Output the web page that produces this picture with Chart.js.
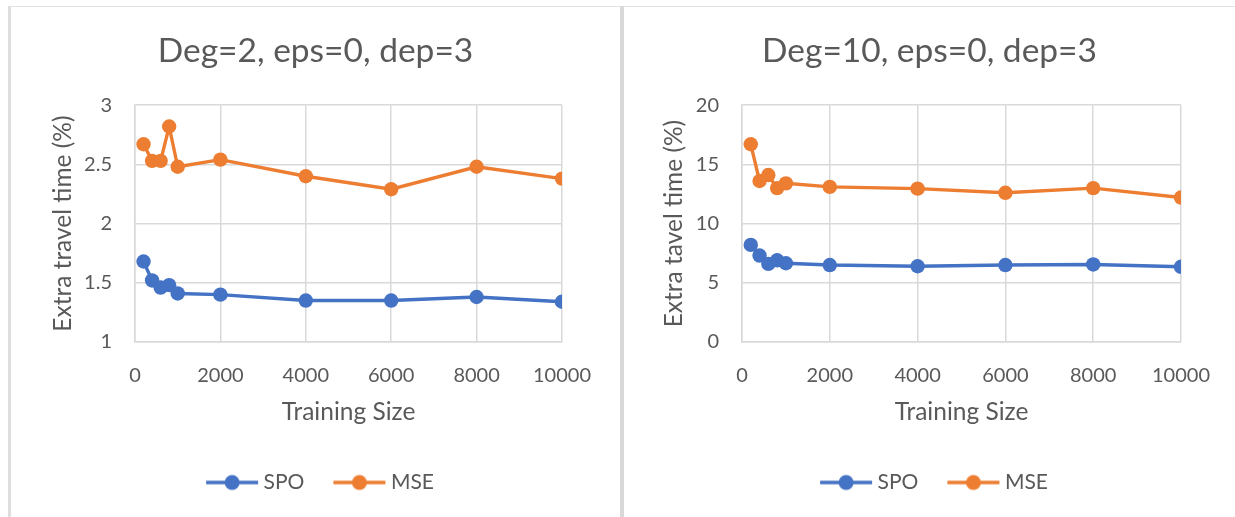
<!DOCTYPE html>
<html>
<head>
<meta charset="utf-8">
<script src="https://cdn.jsdelivr.net/npm/chart.js@4.4.1/dist/chart.umd.min.js"></script>
<style>
  html, body { margin: 0; padding: 0; background: #fff; }
  body { width: 1235px; height: 517px; position: relative; overflow: hidden; }
  .rule { position: absolute; background: #d9d9d9; }
  canvas { position: absolute; }
</style>
</head>
<body>
<div class="rule" style="left:8px;top:6px;width:1227px;height:1px;background:#e3e3e3"></div>
<div class="rule" style="left:8px;top:6px;width:3px;height:511px;background:#dedede"></div>
<div class="rule" style="left:620px;top:6px;width:4px;height:511px"></div>
<canvas id="deg2" width="609" height="509" style="left:11px;top:8px"></canvas>
<canvas id="deg10" width="611" height="509" style="left:624px;top:8px"></canvas>
<script>
// Training set sizes shared by both panels
const trainingSizes = [200, 400, 600, 800, 1000, 2000, 4000, 6000, 8000, 10000];

// Extra travel time (%) — polynomial degree 2
const spoDeg2 = [1.68, 1.52, 1.46, 1.48, 1.41, 1.40, 1.35, 1.35, 1.38, 1.34];
const mseDeg2 = [2.67, 2.53, 2.53, 2.82, 2.48, 2.54, 2.40, 2.29, 2.48, 2.38];

// Extra travel time (%) — polynomial degree 10
const spoDeg10 = [8.2, 7.3, 6.6, 6.9, 6.65, 6.5, 6.4, 6.5, 6.55, 6.35];
const mseDeg10 = [16.7, 13.6, 14.1, 13.0, 13.4, 13.1, 12.95, 12.6, 13.0, 12.2];

// Axis tick values
const xTickValues = [0, 2000, 4000, 6000, 8000, 10000];
const yTicksDeg2 = [1, 1.5, 2, 2.5, 3];
const yTicksDeg10 = [0, 5, 10, 15, 20];

const seriesNames = ['SPO', 'MSE'];
const BLUE = '#4472C4';
const ORANGE = '#ED7D31';
const TEXT = '#595959';
const GRID = '#d9d9d9';
const FONT = 'Lato, "Open Sans", sans-serif';

// Legend glyph: a short line with a marker in the middle
function legendGlyph(color) {
  const c = document.createElement('canvas');
  c.width = 70; c.height = 18;
  const g = c.getContext('2d');
  g.strokeStyle = color; g.lineWidth = 3.5;
  g.beginPath(); g.moveTo(16, 9); g.lineTo(68, 9); g.stroke();
  g.fillStyle = color;
  g.beginPath(); g.arc(42, 9, 7.5, 0, Math.PI * 2); g.fill();
  return c;
}
const glyphs = [legendGlyph(BLUE), legendGlyph(ORANGE)];

function series(label, values, color) {
  return {
    label,
    data: trainingSizes.map((x, i) => ({ x, y: values[i] })),
    borderColor: color,
    backgroundColor: color,
    pointBackgroundColor: color,
    pointBorderWidth: 0,
    pointRadius: 7.2,
    borderWidth: 3.4,
    tension: 0
  };
}

function makeChart(id, o) {
  const tickFont = { family: FONT, size: 20 };
  const titleFont = { family: FONT, size: 24.5 };
  new Chart(document.getElementById(id), {
    type: 'line',
    data: {
      datasets: [
        series(seriesNames[0], o.spo, BLUE),
        series(seriesNames[1], o.mse, ORANGE)
      ]
    },
    options: {
      responsive: false,
      animation: false,
      devicePixelRatio: 1,
      events: [],
      layout: { padding: { left: 10, right: 10, top: 0, bottom: 14 } },
      plugins: {
        title: {
          display: true,
          text: o.title,
          color: TEXT,
          font: { family: FONT, size: 33.5, weight: 'normal' },
          padding: { top: 23, bottom: 34 }
        },
        legend: {
          position: 'bottom',
          labels: {
            usePointStyle: true,
            pointStyleWidth: 56,
            padding: 20,
            color: TEXT,
            font: { family: FONT, size: 21 },
            generateLabels: chart =>
              Chart.defaults.plugins.legend.labels.generateLabels(chart)
                .map((item, i) => Object.assign(item, { pointStyle: glyphs[i] }))
          }
        },
        tooltip: { enabled: false }
      },
      scales: {
        x: {
          type: 'linear',
          min: xTickValues[0],
          max: xTickValues[xTickValues.length - 1],
          afterBuildTicks: s => { s.ticks = xTickValues.map(v => ({ value: v })); },
          afterFit: s => { s.height = 110; },
          grid: { color: GRID, lineWidth: 1.5, drawTicks: false },
          border: { color: GRID, width: 1.5 },
          ticks: { padding: 22, color: TEXT, font: tickFont, callback: v => String(v) },
          title: {
            display: true, text: 'Training Size', color: TEXT, font: titleFont,
            padding: { top: 0, bottom: 25 }
          }
        },
        y: {
          type: 'linear',
          min: o.yTicks[0],
          max: o.yTicks[o.yTicks.length - 1],
          afterBuildTicks: s => { s.ticks = o.yTicks.map(v => ({ value: v })); },
          afterFit: s => { s.width = o.yWidth; },
          grid: { color: GRID, lineWidth: 1.5, drawTicks: false },
          border: { color: GRID, width: 1.5 },
          ticks: { padding: 23, color: TEXT, font: tickFont, callback: v => String(v) },
          title: {
            display: true, text: o.yTitle, color: TEXT, font: titleFont,
            padding: { top: o.yTitlePad, bottom: 0 }
          }
        },
        gap: {
          type: 'linear',
          position: 'right',
          grid: { display: false },
          border: { display: false },
          ticks: { display: false },
          afterFit: s => { s.width = o.rightGap; }
        }
      }
    }
  });
}

makeChart('deg2', {
  title: 'Deg=2, eps=0, dep=3',
  yTitle: 'Extra travel time (%)',
  spo: spoDeg2, mse: mseDeg2, yTicks: yTicksDeg2,
  yWidth: 114, yTitlePad: 27, rightGap: 48
});
makeChart('deg10', {
  title: 'Deg=10, eps=0, dep=3',
  yTitle: 'Extra tavel time (%)',
  spo: spoDeg10, mse: mseDeg10, yTicks: yTicksDeg10,
  yWidth: 108, yTitlePad: 25, rightGap: 44
});
</script>
</body>
</html>
